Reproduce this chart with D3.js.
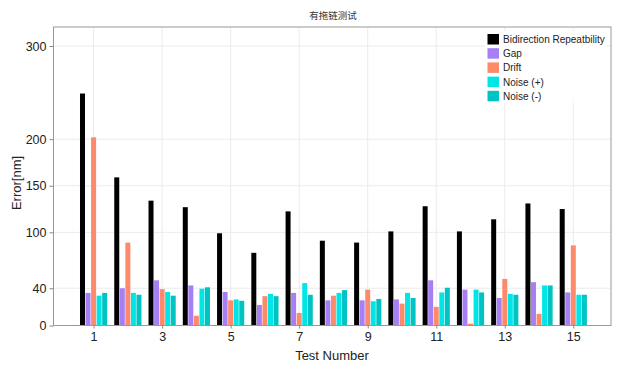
<!DOCTYPE html>
<html>
<head>
<meta charset="utf-8">
<script src="https://cdn.jsdelivr.net/npm/d3@7"></script>
<style>
  body { margin: 0; background: #fff; }
  svg { display: block; font-family: "Liberation Sans", Arial, sans-serif; }
</style>
</head>
<body>
<svg id="chart" width="621" height="372"></svg>
<script>
const tests = d3.range(1, 16);
const seriesNames = ["Bidirection Repeatbility", "Gap", "Drift", "Noise (+)", "Noise (-)"];
const seriesColors = ["#000000", "#a67ff4", "#fd8a6b", "#00e6e6", "#00c4c4"];

const bidirection = [249, 159, 134, 127, 99, 78, 122.5, 91, 89, 101, 128, 101, 114, 131, 125];
const gap = [35, 40, 48.5, 43, 36, 22, 35, 27, 27, 28, 48.5, 38.5, 29.5, 46.5, 35.5];
const drift = [202, 89, 39, 10.5, 27, 31.5, 13.5, 32, 38.5, 23.5, 20, 2, 50, 12.5, 86];
const noisePlus = [32, 35, 36, 39.5, 28, 34, 45.5, 35, 26, 35, 35.5, 38.5, 34, 43, 33];
const noiseMinus = [35, 33, 32, 41, 26.5, 31.5, 33, 38, 28.5, 29.5, 40.5, 35.5, 33, 43, 33];

const yTicks = [0, 40, 100, 150, 200, 300];
const xTicks = [1, 3, 5, 7, 9, 11, 13, 15];

const seriesValues = [bidirection, gap, drift, noisePlus, noiseMinus];

const margin = {left: 53.5, right: 10, top: 27, bottom: 46.5};
const width = 621, height = 372;
const svg = d3.select("#chart");

const x = d3.scaleLinear()
    .domain([-0.17, 16.1])
    .range([margin.left, width - margin.right]);
const y = d3.scaleLinear()
    .domain([0, 300])
    .range([height - margin.bottom, 46]);
const yTop = margin.top;

// inner band for the five bars of a group
const inner = d3.scaleBand()
    .domain(seriesNames)
    .range([-13.6, 13.6])
    .paddingInner(0.1);

// grid
svg.append("g")
    .selectAll("line.h")
    .data(yTicks)
    .join("line")
    .attr("x1", margin.left).attr("x2", width - margin.right)
    .attr("y1", d => y(d)).attr("y2", d => y(d))
    .attr("stroke", "#ebebeb");
svg.append("g")
    .selectAll("line.v")
    .data(xTicks)
    .join("line")
    .attr("x1", d => x(d)).attr("x2", d => x(d))
    .attr("y1", yTop).attr("y2", y(0))
    .attr("stroke", "#ebebeb");

// bars
const groups = svg.append("g")
    .selectAll("g")
    .data(seriesNames)
    .join("g")
    .attr("fill", (d, i) => seriesColors[i]);
groups.selectAll("rect")
    .data((d, i) => tests.map((t, j) => ({t: t, v: seriesValues[i][j], s: d})))
    .join("rect")
    .attr("x", d => x(d.t) + inner(d.s))
    .attr("width", inner.bandwidth())
    .attr("y", d => y(d.v))
    .attr("height", d => y(0) - y(d.v));

// frame
svg.append("rect")
    .attr("x", margin.left).attr("y", yTop)
    .attr("width", width - margin.right - margin.left)
    .attr("height", y(0) - yTop)
    .attr("fill", "none")
    .attr("stroke", "#999")
    .attr("stroke-width", 1);

// axes
const yAxis = svg.append("g")
    .attr("transform", `translate(${margin.left},0)`)
    .call(d3.axisLeft(y).tickValues(yTicks).tickSize(4).tickPadding(3));
const xAxis = svg.append("g")
    .attr("transform", `translate(0,${y(0)})`)
    .call(d3.axisBottom(x).tickValues(xTicks).tickSize(3).tickPadding(4));
[yAxis, xAxis].forEach(a => {
    a.select(".domain").remove();
    a.selectAll(".tick line").attr("stroke", "#888");
    a.selectAll(".tick text")
        .attr("fill", "#222")
        .style("font-size", "12.5px")
        .style("font-family", "'Liberation Sans', Arial, sans-serif");
});

// labels
svg.append("text")
    .attr("x", 333).attr("y", 19)
    .attr("text-anchor", "middle")
    .attr("fill", "#333")
    .style("font-size", "9.5px")
    .style("font-family", "'Noto Sans CJK SC', sans-serif")
    .text("有拖链测试");
svg.append("text")
    .attr("x", 332).attr("y", 360)
    .attr("text-anchor", "middle")
    .attr("fill", "#222")
    .style("font-size", "13px")
    .text("Test Number");
svg.append("text")
    .attr("transform", "translate(21,183) rotate(-90)")
    .attr("text-anchor", "middle")
    .attr("fill", "#222")
    .style("font-size", "13px")
    .text("Error[nm]");

// legend
const legend = svg.append("g").attr("transform", "translate(487.5,34)");
legend.append("rect")
    .attr("x", -3).attr("y", -3)
    .attr("width", 122).attr("height", 72)
    .attr("fill", "#fff").attr("opacity", 0.85);
const items = legend.selectAll("g.item")
    .data(seriesNames)
    .join("g")
    .attr("transform", (d, i) => `translate(0,${i * 14.2})`);
items.append("rect")
    .attr("width", 11.5).attr("height", 10.5)
    .attr("fill", (d, i) => seriesColors[i]);
items.append("text")
    .attr("x", 15.5).attr("y", 9)
    .attr("fill", "#222")
    .style("font-size", "10px")
    .text(d => d);
</script>
</body>
</html>
